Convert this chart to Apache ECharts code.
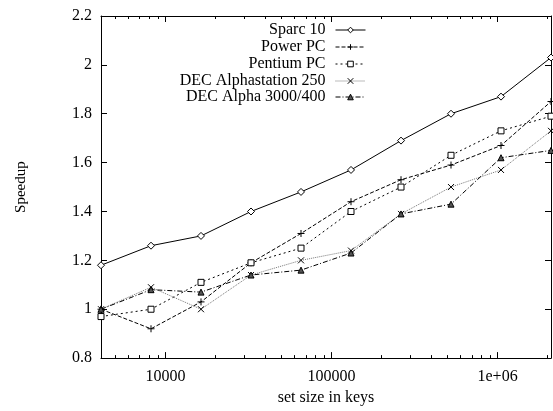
<!DOCTYPE html>
<html>
<head>
<meta charset="utf-8">
<script src="https://cdn.jsdelivr.net/npm/echarts@6/dist/echarts.min.js"></script>
<style>html,body{margin:0;padding:0;background:#fff}#c{width:553px;height:411px}</style>
</head>
<body>
<div id="c"></div>
<script>
const setSizes = [4096, 8192, 16384, 32768, 65536, 131072, 262144, 524288, 1048576, 2097152];
const sparc10 = [1.18, 1.26, 1.30, 1.40, 1.48, 1.57, 1.69, 1.80, 1.87, 2.03];
const powerPC = [1.00, 0.92, 1.03, 1.19, 1.31, 1.44, 1.53, 1.59, 1.67, 1.85];
const pentiumPC = [0.97, 1.00, 1.11, 1.19, 1.25, 1.40, 1.50, 1.63, 1.73, 1.79];
const decAlphastation250 = [1.00, 1.09, 1.00, 1.14, 1.20, 1.24, 1.39, 1.50, 1.57, 1.73];
const decAlpha3000 = [1.00, 1.08, 1.07, 1.14, 1.16, 1.23, 1.39, 1.43, 1.62, 1.65];
const seriesNames = ['Sparc 10', 'Power PC', 'Pentium PC', 'DEC Alphastation 250', 'DEC Alpha 3000/400'];
const xMajorTicks = [10000, 100000, 1000000];
const xMajorLabels = ['10000', '100000', '1e+06'];
const xMinorTicks = [5000, 6000, 7000, 8000, 9000, 20000, 30000, 40000, 50000, 60000, 70000, 80000, 90000,
  200000, 300000, 400000, 500000, 600000, 700000, 800000, 900000, 2000000];
const xTitle = 'set size in keys';
const yTitle = 'Speedup';

const FONT = 'Liberation Serif';
const chart = echarts.init(document.getElementById('c'), null, {renderer: 'canvas'});

const allValues = [sparc10, powerPC, pentiumPC, decAlphastation250, decAlpha3000];
const styles = [
  {symbol: 'diamond', size: 7, dash: 'solid', color: '#000', fill: '#fff'},
  {symbol: 'path://M0,5L10,5M5,0L5,10', size: 7, dash: [4, 2], color: '#000', fill: 'none'},
  {symbol: 'rect', size: 6, dash: [2, 3], color: '#000', fill: '#fff'},
  {symbol: 'path://M0,0L10,10M10,0L0,10', size: 6, dash: [1, 1], color: '#777', fill: 'none'},
  {symbol: 'triangle', size: 6, dash: [5, 2, 1, 2], color: '#000', fill: '#555'}
];

const series = allValues.map((vals, i) => ({
  name: seriesNames[i],
  type: 'line',
  xAxisIndex: 0,
  yAxisIndex: 0,
  data: setSizes.map((s, j) => [s, vals[j]]),
  symbol: styles[i].symbol,
  symbolSize: styles[i].size,
  showAllSymbol: true,
  lineStyle: {color: styles[i].color, width: 1, type: styles[i].dash},
  itemStyle: {color: styles[i].fill, borderColor: '#000', borderWidth: 1},
  emphasis: {disabled: true},
  animation: false
}));

const legendRowTops = [22, 39, 56, 73, 89];
const legends = seriesNames.map((n, i) => ({
  data: [n],
  right: 187,
  top: legendRowTops[i],
  orient: 'vertical',
  align: 'right',
  itemWidth: 30,
  itemHeight: 7,
  padding: 0,
  selectedMode: false,
  lineStyle: {width: 1},
  itemStyle: {borderWidth: 1},
  textStyle: {fontFamily: FONT, fontSize: 16, color: '#000', padding: [0, 5, 0, 0]}
}));

const baseX = {
  type: 'log',
  logBase: 10,
  min: 4096,
  max: 2097152,
  gridIndex: 0,
  splitLine: {show: false},
  minorTick: {show: false},
  minorSplitLine: {show: false}
};

const option = {
  backgroundColor: '#fff',
  animation: false,
  grid: {left: 101, right: 2, top: 16, bottom: 43, containLabel: false},
  legend: legends,
  xAxis: [
    Object.assign({}, baseX, {
      position: 'bottom',
      name: xTitle,
      nameLocation: 'middle',
      nameGap: 26,
      nameTextStyle: {fontFamily: FONT, fontSize: 16, color: '#000'},
      axisLine: {show: true, lineStyle: {color: '#000', width: 1}},
      axisTick: {show: true, inside: true, length: 6, lineStyle: {color: '#000'}, customValues: xMajorTicks},
      axisLabel: {show: true, margin: 11, fontFamily: FONT, fontSize: 16, color: '#000',
        customValues: xMajorTicks,
        formatter: v => { const k = xMajorTicks.findIndex(t => Math.abs(t - v) / t < 1e-6); return k >= 0 ? xMajorLabels[k] : ''; }}
    }),
    Object.assign({}, baseX, {
      position: 'bottom',
      axisLine: {show: false},
      axisTick: {show: true, inside: true, length: 3, lineStyle: {color: '#000'}, customValues: xMinorTicks},
      axisLabel: {show: false}
    }),
    Object.assign({}, baseX, {
      position: 'top',
      axisLine: {show: true, lineStyle: {color: '#000', width: 1}},
      axisTick: {show: true, inside: true, length: 6, lineStyle: {color: '#000'}, customValues: xMajorTicks},
      axisLabel: {show: false}
    }),
    Object.assign({}, baseX, {
      position: 'top',
      axisLine: {show: false},
      axisTick: {show: true, inside: true, length: 3, lineStyle: {color: '#000'}, customValues: xMinorTicks},
      axisLabel: {show: false}
    })
  ],
  yAxis: [
    {
      type: 'value', min: 0.8, max: 2.2, interval: 0.2, position: 'left',
      name: yTitle, nameLocation: 'middle', nameGap: 72, nameRotate: 90,
      nameTextStyle: {fontFamily: FONT, fontSize: 15, color: '#000'},
      axisLine: {show: true, lineStyle: {color: '#000', width: 1}},
      axisTick: {show: true, inside: true, length: 6, lineStyle: {color: '#000'}},
      axisLabel: {margin: 9, fontFamily: FONT, fontSize: 16, color: '#000',
        formatter: v => String(parseFloat(v.toFixed(1)))},
      splitLine: {show: false}
    },
    {
      type: 'value', min: 0.8, max: 2.2, interval: 0.2, position: 'right',
      axisLine: {show: true, lineStyle: {color: '#000', width: 1}},
      axisTick: {show: true, inside: true, length: 6, lineStyle: {color: '#000'}},
      axisLabel: {show: false},
      splitLine: {show: false}
    }
  ],
  series: series
};
chart.setOption(option);
</script>
</body>
</html>
